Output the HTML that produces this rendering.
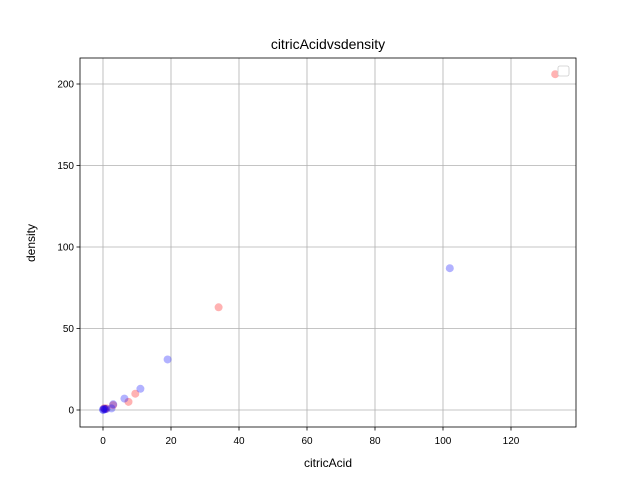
<!DOCTYPE html>
<html><head><meta charset="utf-8"><style>
body{margin:0;background:#fff;font-family:"Liberation Sans","DejaVu Sans",sans-serif}
</style></head><body>
<svg width="640" height="480">
<g id="plot"></g>
</svg>
<script>
const redX=[133,34,9.5,7.5,3,0.5,0.3,1];
const redY=[206,63,10,5,3,0.5,1,1];
const blueX=[102,19,11,6.3,3,2.5,0,0.3,0.6,0.1,1];
const blueY=[87,31,13,7,3.5,1,0.3,0.8,0.5,0,0.6];
const xTicks=[0,20,40,60,80,100,120];
const yTicks=[0,50,100,150,200];
const L=80,R=576,T=58,B=427;
const sx=v=>103+v*3.4, sy=v=>410-v*1.63;
const ns="http://www.w3.org/2000/svg", g=document.getElementById('plot');
function el(t,a,txt){const e=document.createElementNS(ns,t);for(const k in a)e.setAttribute(k,a[k]);if(txt!==undefined)e.textContent=txt;g.appendChild(e);return e;}
xTicks.forEach(v=>{const x=sx(v);
const l=el('line',{x1:x,x2:x,y1:T,y2:B,stroke:'#b0b0b0','stroke-width':0.8});

el('line',{x1:x,x2:x,y1:B,y2:B+3.5,stroke:'#000','stroke-width':0.8});
const t=el('text',{x:x,y:B+17,'text-anchor':'middle','font-size':10},v);
});
yTicks.forEach(v=>{const y=sy(v);
const l=el('line',{x1:L,x2:R,y1:y,y2:y,stroke:'#b0b0b0','stroke-width':0.8});

el('line',{x1:L-3.5,x2:L,y1:y,y2:y,stroke:'#000','stroke-width':0.8});
const t=el('text',{x:L-6,y:y+3.5,'text-anchor':'end','font-size':10},v);
});
redX.forEach((v,i)=>{const c=el('circle',{cx:sx(v),cy:sy(redY[i]),r:4,fill:'#ff0000','fill-opacity':0.3});
});
blueX.forEach((v,i)=>{const c=el('circle',{cx:sx(v),cy:sy(blueY[i]),r:4,fill:'#0000ff','fill-opacity':0.3});
});
const f=el('rect',{x:L,y:T,width:R-L,height:B-T,fill:'none',stroke:'#000','stroke-width':0.8});

const lg=el('rect',{x:558,y:66,width:11,height:10,rx:2,fill:'#fff',stroke:'#ccc','stroke-width':0.8});

const ti=el('text',{x:328,y:49,'text-anchor':'middle','font-size':14},'citricAcidvsdensity');

const xt=el('text',{x:328,y:467,'text-anchor':'middle','font-size':12},'citricAcid');

const yt=el('text',{x:35,y:243,'text-anchor':'middle','font-size':12,transform:'rotate(-90 35 243)'},'density');

</script>
</body></html>
